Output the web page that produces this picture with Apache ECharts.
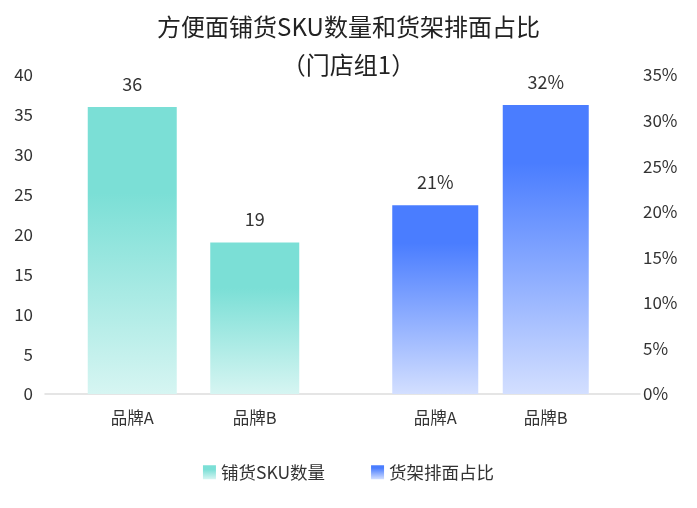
<!DOCTYPE html>
<html>
<head>
<meta charset="utf-8">
<script src="https://cdn.jsdelivr.net/npm/echarts@6/dist/echarts.min.js"></script>
<style>
  html, body { margin: 0; padding: 0; background: #fff; }
  #main { width: 697px; height: 508px; }
</style>
</head>
<body>
<div id="main"></div>
<script>
// data
const brandsSku = ['品牌A', '品牌B'];
const skuCount = [36, 19];
const brandsShelf = ['品牌A', '品牌B'];
const shelfShare = [20.7, 31.7]; // percent
const seriesNames = ['铺货SKU数量', '货架排面占比'];

const FONT = '"Noto Sans CJK SC", "Noto Sans", sans-serif';

const tealGrad = new echarts.graphic.LinearGradient(0, 0, 0, 1, [
  { offset: 0, color: '#7bdfd6' },
  { offset: 0.3, color: '#7bdfd6' },
  { offset: 1, color: '#d6f5f2' }
]);
const blueGrad = new echarts.graphic.LinearGradient(0, 0, 0, 1, [
  { offset: 0, color: '#4a7dff' },
  { offset: 0.2, color: '#4a7dff' },
  { offset: 1, color: '#d3dfff' }
]);

const chart = echarts.init(document.getElementById('main'));

const labelStyle = { color: '#333', fontSize: 17, fontFamily: FONT };

chart.setOption({
  animation: false,
  title: {
    text: '方便面铺货SKU数量和货架排面占比\n（门店组1）',
    left: 'center',
    top: 3,
    textStyle: { fontSize: 24, lineHeight: 38, fontWeight: 'normal', color: '#222', fontFamily: FONT }
  },
  legend: {
    data: seriesNames,
    bottom: 22,
    icon: 'rect',
    itemWidth: 13,
    itemHeight: 14,
    itemGap: 46,
    textStyle: { fontSize: 17.5, color: '#333', fontFamily: FONT }
  },
  grid: [
    { left: 45, right: 57, top: 75, bottom: 114 },
    { left: 71, width: 245, top: 75, bottom: 114 },
    { left: 380, width: 221, top: 75, bottom: 114 }
  ],
  xAxis: [
    {
      gridIndex: 0, type: 'category', data: [''],
      axisLine: { lineStyle: { color: '#ddd', width: 1.5 } },
      axisTick: { show: false }, axisLabel: { show: false }
    },
    {
      gridIndex: 1, type: 'category', data: brandsSku,
      axisLine: { show: false }, axisTick: { show: false },
      axisLabel: { ...labelStyle, fontSize: 16.5, margin: 15 }
    },
    {
      gridIndex: 2, type: 'category', data: brandsShelf,
      axisLine: { show: false }, axisTick: { show: false },
      axisLabel: { ...labelStyle, fontSize: 16.5, margin: 15 }
    }
  ],
  yAxis: [
    {
      gridIndex: 0, type: 'value', position: 'left', min: 0, max: 40, interval: 5,
      splitLine: { show: false }, axisLine: { show: false }, axisTick: { show: false },
      axisLabel: { ...labelStyle, margin: 12 }
    },
    {
      gridIndex: 0, type: 'value', position: 'right', min: 0, max: 35, interval: 5,
      splitLine: { show: false }, axisLine: { show: false }, axisTick: { show: false },
      axisLabel: { ...labelStyle, margin: 3, formatter: '{value}%' }
    },
    { gridIndex: 1, type: 'value', min: 0, max: 40, show: false },
    { gridIndex: 2, type: 'value', min: 0, max: 35, show: false }
  ],
  series: [
    {
      name: seriesNames[0],
      type: 'bar',
      xAxisIndex: 1,
      yAxisIndex: 2,
      barWidth: 89,
      data: skuCount,
      itemStyle: { color: tealGrad },
      label: {
        show: true, position: 'top', distance: 14,
        color: '#333', fontSize: 18, fontFamily: FONT
      }
    },
    {
      name: seriesNames[1],
      type: 'bar',
      xAxisIndex: 2,
      yAxisIndex: 3,
      barWidth: 86,
      data: shelfShare,
      itemStyle: { color: blueGrad },
      label: {
        show: true, position: 'top', distance: 14,
        color: '#333', fontSize: 18, fontFamily: FONT,
        formatter: p => Math.round(p.value) + '%'
      }
    }
  ]
});
</script>
</body>
</html>
